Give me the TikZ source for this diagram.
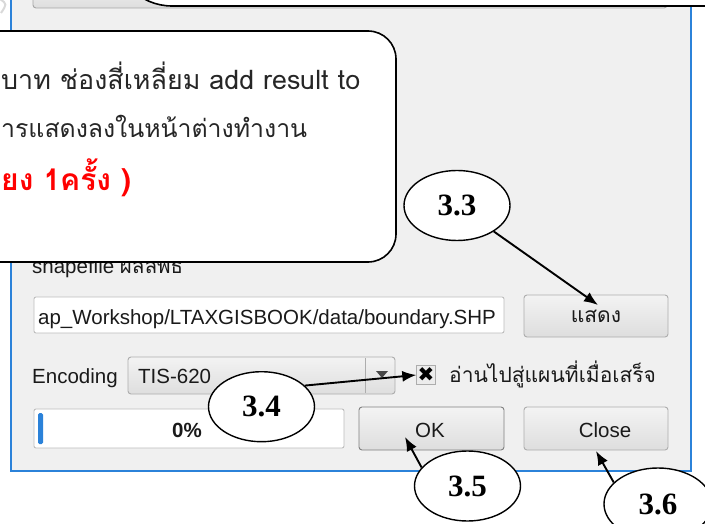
\documentclass[tikz,border=0pt]{standalone}
\usepackage{graphicx}
\usepackage{fontspec}
\setmainfont{Liberation Sans}
\newfontfamily\uifont{Liberation Sans}
\newfontfamily\thaifont[Script=Thai]{Loma}
\newfontfamily\numfont{Liberation Serif}
\newfontfamily\symfont{DejaVu Sans}
\usetikzlibrary{shapes.geometric,arrows.meta}
\definecolor{dlgbg}{HTML}{F0F0F0}
\definecolor{winblue}{HTML}{2B82D9}
\definecolor{btnedge}{HTML}{ADADAD}
\definecolor{btntop}{HTML}{F3F3F3}
\definecolor{btnbot}{HTML}{DEDEDE}
\definecolor{uitext}{HTML}{1A1A1A}
\definecolor{redtext}{HTML}{FF0000}
\tikzset{
  uibtn/.style={draw=btnedge, top color=btntop, bottom color=btnbot, rounded corners=3pt, line width=0.9pt},
  uifield/.style={draw=btnedge!80, fill=white, rounded corners=2pt, line width=0.9pt},
  uilabel/.style={inner sep=0pt, text=uitext, font=\uifont\fontsize{20.5}{24}\selectfont},
  uithai/.style={inner sep=0pt, text=uitext, font=\thaifont\fontsize{21}{24}\selectfont},
  calltext/.style={inner sep=0pt, text=black!85, font=\thaifont\fontsize{27}{32}\selectfont},
  callred/.style={inner sep=0pt, text=redtext, font=\thaifont\bfseries\fontsize{30}{34}\selectfont},
  numell/.style={ellipse, draw=black, fill=white, line width=1.4pt, inner sep=0pt,
    minimum width=106pt, minimum height=70pt, font=\numfont\bfseries\fontsize{31}{31}\selectfont},
  pointer/.style={draw=black, line width=1.9pt, -{Latex[length=14pt,width=11pt]}},
  callout/.style={draw=black, fill=white, line width=1.6pt}
}
\begin{document}
\begin{tikzpicture}[x=1pt,y=-1pt]
\useasboundingbox (0,0) rectangle (705,524);
\clip (0,0) rectangle (705,524);
\fill[white] (0,0) rectangle (705,524);
% dialog panel
\fill[dlgbg] (11,-5) rectangle (691,471);
\draw[winblue, line width=1.6pt] (11,-5) -- (11,471) -- (691,471) -- (691,-5);
% faint mark at top left
\draw[gray!30, line width=2pt] (0,-1) .. controls (7,4) .. (1,13);
% top button (partly visible)
\draw[uibtn, draw=gray!70] (33,-20) rectangle (667,8);
% top callout (partly visible)
\draw[callout, rounded corners=58pt] (114,-140) -- (114,6) -- (780,6) -- (780,-140) -- cycle;
% label under the big callout
\node[uilabel, anchor=base west] (shplabel) at (32,273) {shapefile {\thaifont ผลลัพธ์}};
% big callout
\draw[callout, rounded corners=28pt] (-60,31) rectangle (396,262);
\node[calltext, anchor=base west] (line1) at (1,90) {\resizebox{359pt}{!}{บาท ช่องสี่เหลี่ยม add result to}};
\node[calltext, anchor=base west] (line2) at (1,138) {\resizebox{306pt}{!}{ารแสดงลงในหน้าต่างทำงาน}};
\node[callred, anchor=base west] (line3) at (1,191) {\resizebox{130pt}{!}{ยง 1ครั้ง )}};
% path field and show button
\draw[uifield] (34,297) rectangle (504,333);
\node[uilabel, anchor=base west] (path) at (38,324) {ap\_Workshop/LTAXGISBOOK/data/boundary.SHP};
\draw[uibtn] (524,295) rectangle (668,337);
\node[uithai] (show) at (596,316) {แสดง};
\coordinate (t33) at (598,305);
% encoding row
\node[uilabel, anchor=base west] (enc) at (32,383) {Encoding};
\draw[uibtn] (128,357) rectangle (395,394);
\draw[btnedge, line width=0.8pt] (365,358) -- (365,393);
\fill[uitext!80] (376,371) -- (388,371) -- (382,378) -- cycle;
\node[uilabel, anchor=base west] (tis) at (138,383) {TIS-620};
\node[draw=btnedge, fill=gray!15, minimum size=19pt, inner sep=0pt] (cb) at (426,375) {};
\node[inner sep=0pt, font=\symfont\fontsize{20}{20}\selectfont] (cbmark) at (cb.center) {✖};
\node[uithai, anchor=base west] (readlbl) at (449,382) {อ่านไปสู่แผนที่เมื่อเสร็จ};
% progress bar, OK, Close
\draw[uifield] (34,409) rectangle (344,448);
\fill[winblue, rounded corners=1.5pt] (38,413) rectangle (43,444);
\node[uilabel, font=\uifont\bfseries\fontsize{20.5}{24}\selectfont] (pct) at (187,430) {0\%};
\draw[uibtn, draw=gray] (359,407) rectangle (504,450);
\node[uilabel] (ok) at (430,430) {OK};
\draw[uibtn] (524,407) rectangle (668,450);
\node[uilabel] (close) at (605,430) {Close};
\coordinate (t35) at (405,437);
\coordinate (t36) at (596,451);
% numbered ellipses
\node[numell] (e33) at (457,205.5) {3.3};
\node[numell] (e34) at (261.5,406.7) {3.4};
\node[numell] (e35) at (467.5,486) {3.5};
\node[numell, minimum width=108pt, minimum height=72pt] (e36) at (658,504) {3.6};
% pointers
\draw[pointer] (e33) -- (t33);
\draw[pointer] (e34.26) -- (cb.west);
\draw[pointer] (e35.158) -- (t35);
\draw[pointer] (e36.154) -- (t36);
\end{tikzpicture}
\end{document}
